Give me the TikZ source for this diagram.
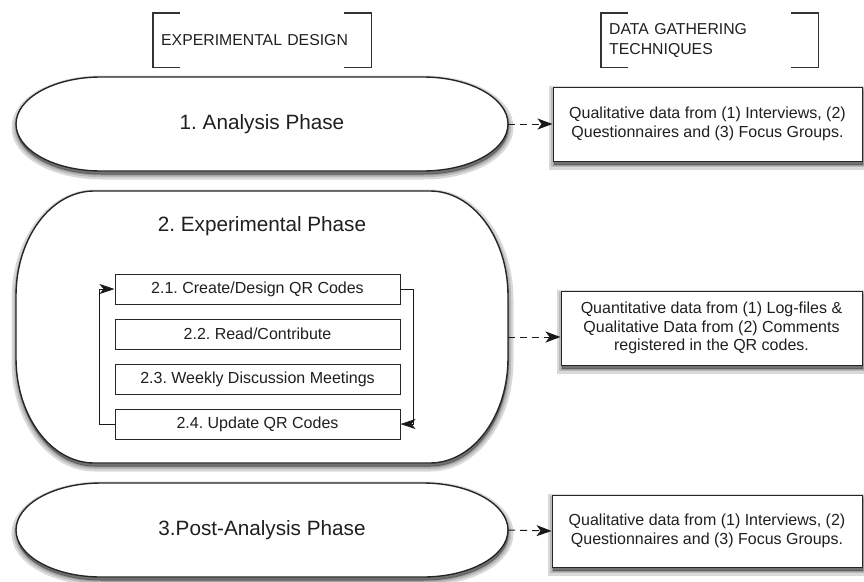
\documentclass[tikz,border=0pt]{standalone}
\usepackage{fontspec}
\setmainfont{Liberation Sans}
\usetikzlibrary{positioning,calc,arrows.meta,shadows}
\frenchspacing

\tikzset{
	softshadow/.style={
		drop shadow={shadow xshift=0.5pt, shadow yshift=-3.5pt, opacity=0.15,
			fill=black, draw=black, line width=10pt},
		drop shadow={shadow xshift=0.5pt, shadow yshift=-3.5pt, opacity=0.15,
			fill=black, draw=black, line width=5.5pt},
		drop shadow={shadow xshift=0.5pt, shadow yshift=-3.5pt, opacity=0.15,
			fill=black, draw=black, line width=2pt}},
	phase/.style={rectangle, inner sep=0pt, text=black!88,
		font=\fontsize{20.7}{24}\selectfont},
	phaseline/.style={draw=black!85, line width=1.4pt, fill=white, softshadow},
	stepbox/.style={draw=black!85, line width=1pt, fill=white, inner sep=0pt,
		minimum width=285pt, minimum height=30pt, text=black!88,
		font=\fontsize{16}{18.5}\selectfont},
	databox/.style={draw=black!85, line width=1pt, fill=white, inner sep=0pt,
		align=center, text=black!88, font=\fontsize{16}{18.5}\selectfont,
		softshadow},
	header/.style={anchor=north west, inner xsep=8pt, inner ysep=0pt,
		minimum height=54pt, align=left, text=black!88,
		font=\fontsize{15.8}{20.3}\selectfont},
	bracket/.style={draw=black!80, line width=1.2pt},
	flow/.style={-{Stealth[length=15pt,width=11pt,inset=4pt]}, line width=1pt,
		dash pattern=on 7pt off 5pt, draw=black!90},
	loopline/.style={-{Stealth[length=15pt,width=10pt,inset=4pt]},
		line width=1pt, draw=black!90}
}

\newcommand{\bracketpair}[1]{%
	\draw[bracket] ($(#1.north west)+(27,0)$) -- (#1.north west)
		-- (#1.south west) -- ++(27,0);
	\draw[bracket] ($(#1.north east)+(-27,0)$) -- (#1.north east)
		-- (#1.south east) -- ++(-27,0);}

% left, top, right, bottom, corner x radius, corner y radius
\newcommand{\phaseshape}[6]{%
	\draw[phaseline] (#1+#5,#2) -- (#3-#5,#2)
		arc[start angle=90, end angle=0, x radius=#5pt, y radius=#6pt]
		-- (#3,#4-#6)
		arc[start angle=0, end angle=-90, x radius=#5pt, y radius=#6pt]
		-- (#1+#5,#4)
		arc[start angle=-90, end angle=-180, x radius=#5pt, y radius=#6pt]
		-- (#1,#2+#6)
		arc[start angle=180, end angle=90, x radius=#5pt, y radius=#6pt]
		-- cycle;}

\begin{document}
\begin{tikzpicture}[x=1pt,y=-1pt]
	\useasboundingbox (0,0) rectangle (864,581);

	\node[header, text width=202pt] (hd1) at (153,13) {EXPERIMENTAL DESIGN};
	\node[header, text width=201pt] (hd2) at (601,13) {DATA GATHERING\\TECHNIQUES};
	\bracketpair{hd1}
	\bracketpair{hd2}

	\phaseshape{16}{77}{508}{171}{85}{47}
	\phaseshape{16}{191}{508}{463}{78}{105}
	\phaseshape{16}{483}{508}{577}{85}{47}

	\node[phase, minimum width=492pt, minimum height=94pt] (ph1) at (262,124) {1. Analysis Phase};
	\node[phase, minimum width=492pt, minimum height=272pt] (ph2) at (262,327) {};
	\node[phase] (ph2title) at ($(ph2.north)+(0,35)$) {2. Experimental Phase};
	\node[phase, minimum width=492pt, minimum height=94pt] (ph3) at (262,530) {3.Post-Analysis Phase};

	\node[stepbox] (s1) at (257.5,289) {2.1. Create/Design QR Codes};
	\node[stepbox, below=14pt of s1] (s2) {2.2. Read/Contribute};
	\node[stepbox, below=14pt of s2] (s3) {2.3. Weekly Discussion Meetings};
	\node[stepbox, below=14pt of s3] (s4) {2.4. Update QR Codes};

	\draw[loopline] (s1.east) -- ++(13,0) |- (s4.east);
	\draw[loopline] (s4.west) -- ++(-15,0) |- (s1.west);

	\node[databox, minimum width=309pt, minimum height=74pt] (d1) at (707.5,124)
		{Qualitative data from (1) Interviews, (2)\\Questionnaires and (3) Focus Groups.};
	\node[databox, minimum width=301pt, minimum height=74pt] (d2) at (711.5,328)
		{Quantitative data from (1) Log-files \&\\Qualitative Data from (2) Comments\\registered in the QR codes.};
	\node[databox, minimum width=310pt, minimum height=72pt] (d3) at (707,531)
		{Qualitative data from (1) Interviews, (2)\\Questionnaires and (3) Focus Groups.};

	\draw[flow] (ph1.east) -- (d1.west);
	\draw[flow] ([yshift=-10pt]ph2.east) -- ([yshift=-9pt]d2.west);
	\draw[flow] (ph3.east) -- (d3.west);
\end{tikzpicture}
\end{document}
